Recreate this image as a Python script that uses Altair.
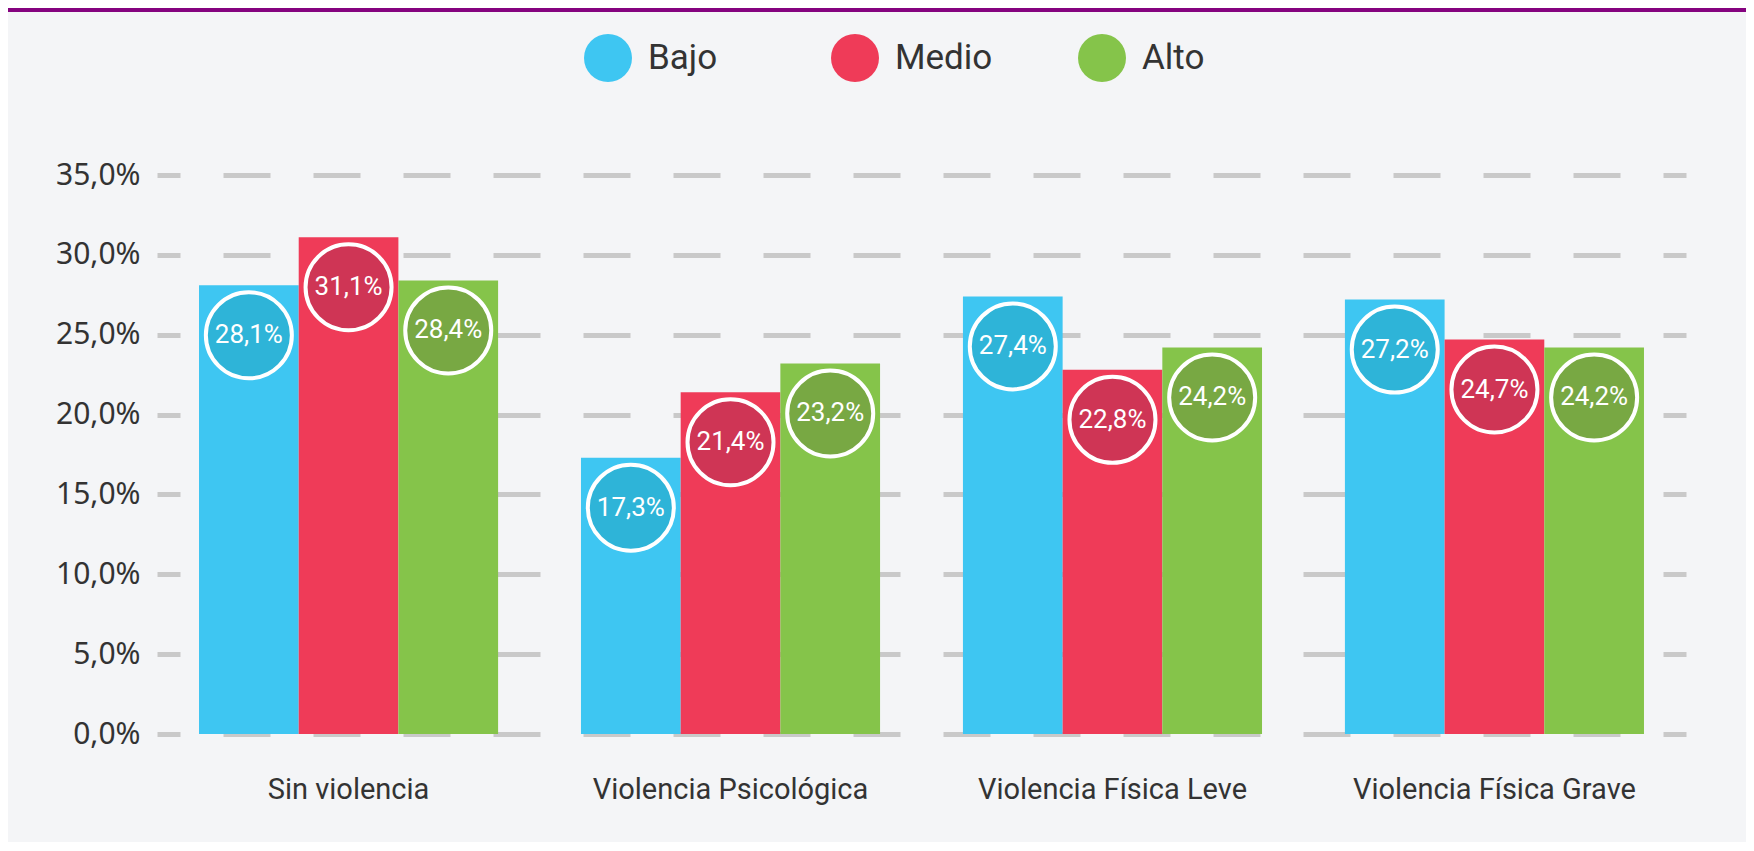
import altair as alt
import pandas as pd

categories = ["Sin violencia", "Violencia Psicológica", "Violencia Física Leve", "Violencia Física Grave"]
levels = ["Bajo", "Medio", "Alto"]
bajo = [28.1, 17.3, 27.4, 27.2]
medio = [31.1, 21.4, 22.8, 24.7]
alto = [28.4, 23.2, 24.2, 24.2]
y_ticks = [0, 5, 10, 15, 20, 25, 30, 35]

bar_colors = ["#3ec6f2", "#ef3b58", "#85c44a"]
circle_colors = ["#2eb4d8", "#cf3555", "#78a843"]

rows = []
for lvl, vals in zip(levels, [bajo, medio, alto]):
    for c, v in zip(categories, vals):
        rows.append({"cat": c, "nivel": lvl, "valor": v,
                     "etiqueta": f"{v:.1f}".replace(".", ",") + "%"})
df = pd.DataFrame(rows)

FONT_COND = "Roboto, sans-serif"
FONT_REG = "Noto Sans, sans-serif"

x_enc = alt.X("cat:N", sort=categories,
              scale=alt.Scale(paddingInner=0.217, paddingOuter=0.11),
              axis=alt.Axis(title=None, labelAngle=0, labelFont=FONT_COND, labelFontSize=29,
                            labelColor="#333333", labelPadding=41, domain=False, ticks=False,
                            grid=False, labelLimit=0))
xo_enc = alt.XOffset("nivel:N", sort=levels, scale=alt.Scale(paddingInner=0, paddingOuter=0))
y_enc = alt.Y("valor:Q", scale=alt.Scale(domain=[0, 35], nice=False, zero=True),
              axis=alt.Axis(title=None, values=y_ticks, domain=False, ticks=False,
                            labelExpr="replace(format(datum.value, '.1f'), '.', ',') + '%'",
                            labelFont=FONT_REG, labelFontSize=30, labelColor="#333333",
                            labelPadding=17, grid=True, gridColor="#c9c9c9", gridWidth=5,
                            gridDash=[47, 43], gridDashOffset=24))

base = alt.Chart(df)

bars = base.mark_bar(strokeWidth=0).encode(
    x=x_enc, xOffset=xo_enc, y=y_enc,
    color=alt.Color("nivel:N", sort=levels,
                    scale=alt.Scale(domain=levels, range=bar_colors),
                    legend=alt.Legend(title=None, orient="none", direction="horizontal",
                                      legendX=427, legendY=-141, symbolType="circle",
                                      symbolSize=2304, symbolStrokeWidth=0, symbolOpacity=1,
                                      labelFont=FONT_COND, labelFontSize=35, labelColor="#333333",
                                      labelOffset=16, columnPadding=85, gridAlign="all",
                                      padding=0))
)

circles = base.mark_circle(size=7396, opacity=1, stroke="white", strokeWidth=4, yOffset=50).encode(
    x=x_enc, xOffset=xo_enc, y=y_enc,
    fill=alt.Fill("nivel:N", sort=levels, scale=alt.Scale(domain=levels, range=circle_colors),
                  legend=None)
)

labels = base.mark_text(color="white", font=FONT_COND, fontSize=26, yOffset=50,
                        baseline="middle", align="center").encode(
    x=x_enc, xOffset=xo_enc, y=y_enc, text="etiqueta:N"
)

top_bar = alt.Chart(pd.DataFrame({"a": [0]})).mark_rule(color="#85037f", strokeWidth=4).encode(
    x=alt.value(-149), x2=alt.value(1589), y=alt.value(-165)
)

chart = alt.layer(bars, circles, labels, top_bar).properties(
    width=1529, height=559,
    padding={"left": 149, "top": 167, "right": 60, "bottom": 108},
    autosize=alt.AutoSizeParams(type="none"),
    background="#f4f5f7",
).configure_view(stroke=None)

chart.save("out.html", embed_options={"renderer": "svg", "actions": False})
